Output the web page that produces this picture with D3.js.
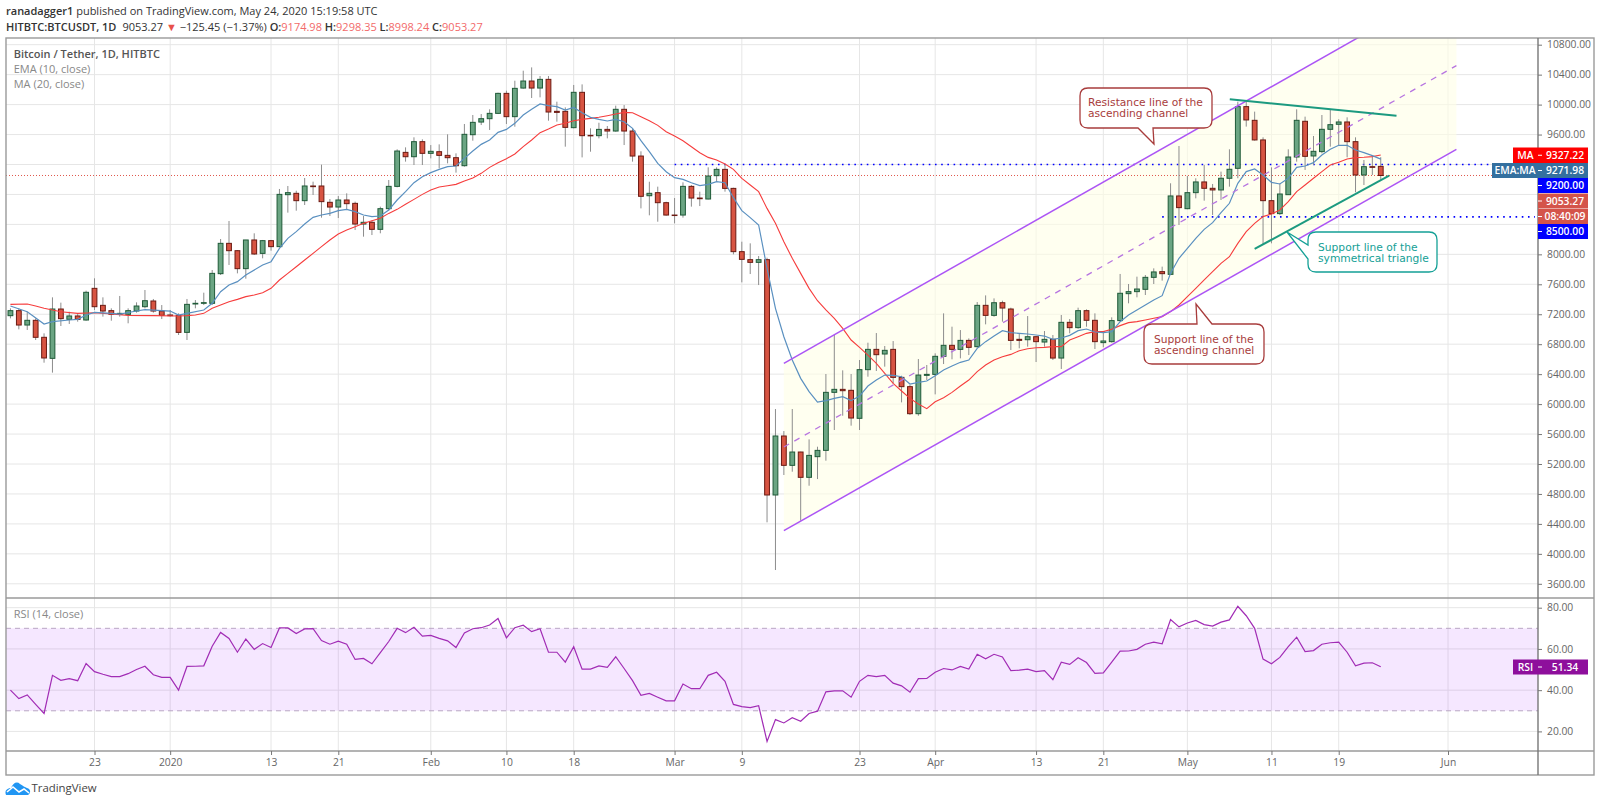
<!DOCTYPE html>
<html>
<head>
<meta charset="utf-8">
<title>BTCUSDT</title>
<script src="https://cdn.jsdelivr.net/npm/d3@7/dist/d3.min.js"></script>
<style>
  html, body { margin: 0; padding: 0; background: #fff; }
  svg { display: block; }
  text { font-family: "Open Sans", "Noto Sans", sans-serif; }
  .price-axis path, .time-axis path { display: none; }
  .price-axis line, .time-axis line { stroke: #777; }
  .price-axis text, .time-axis text { fill: #666; font-size: 10.3px; }
</style>
</head>
<body>
<svg id="chart" width="1600" height="805"></svg>
<script>
// daily candles from 13 Dec 2019
const firstDay = '2019-12-13';
const opens = [7181,7248,7056,7119,6892,6611,7270,7132,7177,7123,7546,7319,7248,7199,7199,7243,7301,7377,7243,7190,7185,6958,7337,7346,7346,7742,8147,8049,7809,8192,8013,8183,8103,8797,8815,8717,8913,8913,8695,8632,8726,8681,8405,8428,8334,8610,8908,9362,9304,9505,9349,9371,9322,9291,9184,9598,9767,9812,9883,10150,9839,10221,10315,10221,10337,9910,9910,9692,10164,9589,9585,9669,9647,9937,9647,9313,8783,8824,8690,8525,8525,8908,8752,8739,9051,9135,8881,8036,7929,7893,7929,4786,5574,5182,5360,5022,5298,5382,6157,6197,6184,5810,6460,6731,6669,6731,6357,6233,5872,6384,6397,6638,6785,6731,6851,6767,7319,7185,7354,7270,6865,6860,6900,6829,6865,6615,7092,7021,7248,7119,6821,6834,7115,7475,7502,7533,7693,7769,7733,8780,8610,8824,8967,8882,8860,9016,9149,9973,9790,9528,8717,8544,8797,9300,9777,9314,9372,9670,9737,9768,9505,9060,9171,9175];
const highs = [7279,7279,7234,7145,6945,7426,7355,7234,7212,7515,7680,7426,7279,7444,7279,7359,7524,7404,7323,7257,7212,7404,7390,7488,7791,8205,8445,8058,8192,8281,8192,8192,8873,8913,8850,9020,8971,9198,8739,8779,8815,8704,8512,8450,8637,8993,9403,9429,9563,9536,9460,9469,9603,9349,9741,9861,9874,9937,10159,10186,10319,10453,10497,10382,10382,10039,9963,10262,10270,9683,9758,9714,9986,9994,9683,9376,8970,8904,8703,8752,8962,8926,8837,9162,9162,9206,8890,8169,8147,7978,7955,5934,5640,5934,5364,5529,5431,6402,6923,6451,6402,6589,6820,6949,6776,6842,6379,6255,6602,6522,6678,7212,7034,6989,6878,7363,7452,7412,7381,7288,6945,7176,6909,6976,6923,7190,7136,7288,7265,7212,6968,7159,7738,7604,7702,7724,7813,7836,8949,9447,9047,9016,9194,8940,9105,9403,10039,10053,9906,9563,9162,8949,9403,9937,9839,9581,9861,9928,9804,9830,9563,9260,9314,9298];
const lows = [7145,6998,6990,6856,6553,6420,7043,7070,7101,7114,7257,7168,7114,7168,7079,7221,7279,7221,7136,7168,6923,6856,7279,7323,7323,7724,7858,7746,7675,7991,7947,8049,8094,8557,8583,8659,8793,8490,8512,8485,8592,8325,8236,8258,8281,8583,8895,9238,9193,9193,9282,9149,9215,9091,9171,9518,9727,9661,9874,9741,9705,10213,10088,10097,9785,9772,9438,9683,9295,9371,9549,9549,9638,9460,9238,8614,8521,8436,8516,8414,8490,8637,8645,8735,8970,8837,8000,7626,7737,7590,4421,3784,5053,5097,4443,4910,4999,5244,5654,5845,5712,5654,6366,6442,6500,6277,6023,5854,5845,6322,6130,6535,6598,6611,6655,6753,7065,7167,7101,6722,6745,6767,6562,6767,6589,6469,6945,7007,7034,6736,6758,6821,7101,7346,7426,7457,7604,7649,7724,8392,8602,8748,8717,8526,8726,8904,9016,9706,9519,8138,8147,8526,8793,9238,9127,9194,9349,9438,9461,9296,8829,8926,9060,8998];
const closes = [7248,7056,7119,6892,6616,7270,7141,7177,7132,7493,7301,7243,7199,7212,7248,7310,7381,7243,7185,7181,6958,7332,7346,7355,7746,8147,8049,7809,8192,8005,8183,8103,8801,8824,8717,8913,8904,8704,8632,8726,8677,8405,8428,8334,8610,8908,9380,9304,9505,9349,9376,9322,9291,9184,9603,9763,9812,9883,10150,9839,10217,10315,10221,10337,9901,9896,9696,10164,9585,9585,9669,9647,9937,9647,9313,8775,8815,8690,8525,8521,8908,8752,8743,9046,9135,8881,8036,7933,7893,7929,4786,5574,5182,5360,5022,5315,5382,6157,6197,6179,5814,6460,6731,6660,6718,6357,6233,5872,6388,6397,6638,6785,6731,6851,6758,7319,7185,7354,7283,6851,6851,6900,6834,6865,6615,7092,7021,7248,7119,6834,6843,7115,7480,7502,7537,7693,7765,7742,8780,8624,8824,8967,8882,8860,9016,9136,9973,9795,9528,8717,8544,8806,9300,9790,9309,9376,9670,9732,9768,9505,9060,9171,9162,9053.27];

// line vertices, position = candle number (0 = first candle)
const emaAt = [0,2,4,5,7,8,9,10,12,13,15,16,18,19,20,21,23,24,25,26,27,28,30,31,32,33,34,35,36,37,38,39,40,41,42,43,44,45,46,47,48,49,50,51,52,53,54,55,56,57,58,59,60,61,62,63,64,65,66,67,68,69,70,71,72,73,74,75,76,77,78,79,80,81,82,83,84,85,86,87,88,89,90,91,92,93,94,95,96,97,98,99,100,101,102,103,104,105,106,107,108,109,110,111,112,113,114,115,116,117,118,119,120,121,122,123,124,125,126,127,128,129,130,131,132,133,134,135,136,137,138,139,140,141,142,143,144,145,146,147,148,149,150,151,152,153,154,155,156,157,158,159,160,161,162,163];
const emaVals = [7310,7234,7070,7101,7123,7132,7190,7225,7212,7203,7243,7261,7248,7243,7190,7212,7257,7346,7501,7590,7635,7724,7858,7902,8080,8214,8303,8405,8494,8526,8548,8583,8601,8570,8526,8503,8512,8592,8726,8837,8957,9037,9091,9135,9171,9180,9282,9380,9469,9527,9629,9669,9750,9861,9937,10008,9986,9972,9928,9963,9892,9830,9803,9781,9803,9772,9683,9518,9371,9215,9104,9024,9002,8957,8917,8935,8970,8957,8757,8583,8490,8392,7813,7279,6900,6589,6344,6166,6028,6046,6077,6099,6046,6108,6241,6321,6388,6384,6366,6268,6290,6308,6379,6455,6509,6558,6589,6745,6834,6909,6981,6954,6945,6936,6923,6909,6865,6883,6918,6981,7003,6963,6954,6968,7101,7190,7257,7324,7391,7448,7747,7947,8080,8214,8334,8423,8557,8682,8949,9105,9140,9060,8962,8940,9016,9162,9180,9225,9327,9403,9456,9456,9394,9358,9318,9271.98];
const maAt = [0,2,3,4,5,6,8,10,12,14,17,20,21,22,23,24,25,26,27,28,29,30,31,32,33,34,35,36,37,38,39,40,41,42,43,44,45,46,47,48,49,50,51,52,53,54,55,56,57,58,59,60,61,62,63,64,65,66,67,68,69,70,71,72,73,74,75,76,77,78,79,80,81,82,83,84,85,86,87,88,89,90,91,92,93,94,95,96,97,98,99,100,101,102,103,104,105,106,107,108,109,110,111,112,113,114,115,116,117,118,119,120,121,122,123,124,125,126,127,128,129,130,131,132,133,134,135,136,137,138,139,140,141,142,143,144,145,146,147,148,149,150,151,152,153,154,155,156,157,158,159,160,161,162,163];
const maVals = [7332,7337,7310,7279,7257,7234,7212,7221,7203,7185,7181,7177,7181,7190,7212,7279,7323,7368,7399,7435,7457,7488,7546,7657,7746,7835,7924,8013,8103,8192,8272,8325,8370,8414,8450,8481,8547,8601,8668,8734,8801,8859,8899,8917,8935,8979,9019,9082,9162,9224,9278,9340,9438,9527,9625,9674,9727,9750,9785,9803,9816,9830,9852,9874,9896,9892,9839,9785,9723,9638,9580,9518,9438,9358,9295,9260,9206,9135,9015,8926,8837,8614,8414,8169,7947,7746,7546,7381,7257,7145,7012,6856,6758,6655,6544,6411,6277,6175,6077,6001,5939,6032,6086,6157,6241,6321,6433,6522,6589,6633,6664,6713,6740,6753,6758,6767,6767,6856,6900,6945,6968,6968,6999,7048,7088,7101,7123,7146,7168,7235,7324,7435,7546,7658,7769,7880,7969,8147,8303,8414,8504,8539,8593,8704,8837,8926,9016,9105,9194,9229,9274,9292,9296,9305,9327.22];
const rsiVals = [40,35.9,37.7,33.1,28.7,47.2,44.8,45.6,44.6,52.9,49,47.7,46.6,46.6,48,50,51.6,47.5,46.2,46.2,40,51.5,51.6,51.8,61.3,68,65.1,58.4,64.8,59.8,62.6,60.7,70.2,70.2,67.5,69.7,69.8,64.1,62.3,63.8,62.3,54.9,55.4,52.8,58.2,63.6,70,67.9,70.5,66.2,66.6,65.1,63.9,60.7,67.7,69.8,70.3,71.6,74.8,65.4,70.3,71.5,68.4,69.8,58.4,58.4,53.6,61.1,50.2,50.2,51.8,51.1,56.2,50.5,44.6,37.5,38.4,36.6,34.8,34.8,43,40.7,40.7,47.2,48.7,44.3,33.1,32,31.5,32.5,15.1,25.7,24.1,26.6,24.9,28.7,29.8,39.2,39.7,39.7,36.6,44.3,47.2,46.6,47.2,43.4,42.1,39,45.6,45.7,48.7,50.5,49.8,51.5,50.2,57.4,55.2,57.4,56.1,49.5,49.7,50.2,49,49.5,45.1,53.6,52.5,55.7,53.4,48.2,48.4,53.6,58.9,59,59.8,62.3,63.3,62.5,74.3,70.7,72.6,73.8,71.8,71.1,73,74.1,80.7,76.1,70,55.1,52.8,55.9,61.1,65.7,58.7,59.2,62.3,63,63.3,58.4,51.8,53.1,53.3,51.34];

const priceTicks = [10800,10400,10000,9600,9200,8800,8400,8000,7600,7200,6800,6400,6000,5600,5200,4800,4400,4000,3600];
const hiddenPriceLabels = [9200,8800,8400];
const rsiTicks = [80,60,40,20];
const timeTicks = ['2019-12-23','2020-01-01','2020-01-13','2020-01-21','2020-02-01','2020-02-10','2020-02-18','2020-03-01','2020-03-09','2020-03-23','2020-04-01','2020-04-13','2020-04-21','2020-05-01','2020-05-11','2020-05-19','2020-06-01'];
const timeLabels = ['23','2020','13','21','Feb','10','18','Mar','9','23','Apr','13','21','May','11','19','Jun'];

// trend line drawings [candle number, price]
const channelUpper = [[92,6545],[172,11639]];
const channelMid = [[92,5427],[172,10521]];
const channelLower = [[92,4309],[172,9403]];
const triangleTop = [[145.07,10071],[164.9,9852]];
const triangleBottom = [[148.04,8072],[164,9050]];
// horizontal levels [first candle, price]
const levels = [[79,9200],[137,8500]];

const CHART = { left: 6, right: 1538, outer: 1594, top: 38, mainBottom: 598, rsiBottom: 751, bottom: 775 };

const parseDay = d3.utcParse('%Y-%m-%d');
const dayOf = i => d3.utcHour.offset(parseDay(firstDay), i * 24);

const x = d3.scaleUtc()
  .domain([parseDay('2019-12-23'), parseDay('2020-06-01')])
  .range([94.5, 1448]);
const y = d3.scaleLinear().domain([3600, 10800]).range([583.8, 44.7]);
const yRsi = d3.scaleLinear().domain([20, 80]).range([731.4, 607.7]);
const xi = i => x(dayOf(i));

const svg = d3.select('#chart');

svg.append('defs').append('clipPath').attr('id', 'main-clip')
  .append('rect')
  .attr('x', CHART.left).attr('y', CHART.top)
  .attr('width', CHART.right - CHART.left).attr('height', CHART.mainBottom - CHART.top);

// header
const header = svg.append('g').attr('font-size', 11).attr('fill', '#333');
header.append('text').attr('x', 6).attr('y', 15)
  .html('<tspan font-weight="600">ranadagger1</tspan> published on TradingView.com, May 24, 2020 15:19:58 UTC');
const head2 = header.append('text').attr('x', 6).attr('y', 30.5);
head2.append('tspan').attr('font-weight', 600).text('HITBTC:BTCUSDT, 1D');
head2.append('tspan').attr('dx', 6).text('9053.27 ');
head2.append('tspan').attr('fill', '#e8504a').text('▼');
head2.append('tspan').text(' −125.45 (−1.37%) ');
[['O:', '9174.98'], ['H:', '9298.35'], ['L:', '8998.24'], ['C:', '9053.27']].forEach(([k, v]) => {
  head2.append('tspan').attr('font-weight', 600).text(k);
  head2.append('tspan').attr('fill', '#f26a6a').text(v + ' ');
});

// grids
const grid = svg.append('g').attr('stroke', '#e6e6e6').attr('stroke-width', 1);
grid.selectAll('.gx').data(timeTicks).enter().append('line')
  .attr('x1', d => x(parseDay(d))).attr('x2', d => x(parseDay(d)))
  .attr('y1', CHART.top).attr('y2', CHART.rsiBottom);
grid.selectAll('.gy').data(priceTicks).enter().append('line')
  .attr('x1', CHART.left).attr('x2', CHART.right)
  .attr('y1', d => y(d)).attr('y2', d => y(d));

// rsi band
svg.append('rect')
  .attr('x', CHART.left).attr('width', CHART.right - CHART.left)
  .attr('y', yRsi(70)).attr('height', yRsi(30) - yRsi(70))
  .attr('fill', '#9915ff').attr('fill-opacity', 0.1);
grid.selectAll('.gr').data(rsiTicks).enter().append('line')
  .attr('x1', CHART.left).attr('x2', CHART.right)
  .attr('y1', d => yRsi(d)).attr('y2', d => yRsi(d));
[70, 30].forEach(v => {
  svg.append('line')
    .attr('x1', CHART.left).attr('x2', CHART.right)
    .attr('y1', yRsi(v)).attr('y2', yRsi(v))
    .attr('stroke', '#b9a6c4').attr('stroke-dasharray', '5 4');
});

const plot = svg.append('g').attr('clip-path', 'url(#main-clip)');
const toPt = ([i, p]) => [xi(i), y(p)];

// channel fill
const channelShape = [channelUpper[0], channelUpper[1], channelLower[1], channelLower[0]].map(toPt);
plot.append('path')
  .attr('d', d3.line()(channelShape) + 'Z')
  .attr('fill', '#ffffe6').attr('fill-opacity', 0.6);

// price line + levels
plot.append('line')
  .attr('x1', CHART.left).attr('x2', CHART.right)
  .attr('y1', y(9053.27)).attr('y2', y(9053.27))
  .attr('stroke', '#e0584c').attr('stroke-dasharray', '1 2');
levels.forEach(([i, p]) => {
  plot.append('line')
    .attr('x1', xi(i)).attr('x2', 1535)
    .attr('y1', y(p)).attr('y2', y(p))
    .attr('stroke', '#0000ff').attr('stroke-width', 1.6)
    .attr('stroke-dasharray', '1.6 4.6');
});

// candles
const candles = plot.append('g').selectAll('g')
  .data(opens.map((o, i) => ({ i, o, h: highs[i], l: lows[i], c: closes[i] })))
  .enter().append('g');
candles.append('line')
  .attr('x1', d => xi(d.i)).attr('x2', d => xi(d.i))
  .attr('y1', d => y(d.h)).attr('y2', d => y(d.l))
  .attr('stroke', '#8d8d8d');
candles.append('rect')
  .attr('x', d => xi(d.i) - 2.4).attr('width', 4.8)
  .attr('y', d => y(Math.max(d.o, d.c)))
  .attr('height', d => Math.max(0.5, Math.abs(y(d.o) - y(d.c))))
  .attr('fill', d => d.c >= d.o ? '#6ba583' : '#d75442')
  .attr('stroke', d => d.c >= d.o ? '#1f5a38' : '#6b1a12');

// ema / ma
const lineGen = d3.line().x(d => xi(d[0])).y(d => y(d[1]));
plot.append('path')
  .attr('d', lineGen(maAt.map((a, k) => [a, maVals[k]])))
  .attr('fill', 'none').attr('stroke', '#f63d3d').attr('stroke-width', 1.1);
plot.append('path')
  .attr('d', lineGen(emaAt.map((a, k) => [a, emaVals[k]])))
  .attr('fill', 'none').attr('stroke', '#5a90c0').attr('stroke-width', 1.2);

// channel lines
[channelUpper, channelLower].forEach(seg => {
  plot.append('path').attr('d', d3.line()(seg.map(toPt)))
    .attr('stroke', '#ac55f5').attr('stroke-width', 1.5).attr('fill', 'none');
});
plot.append('path').attr('d', d3.line()(channelMid.map(toPt)))
  .attr('stroke', '#b775e0').attr('stroke-width', 1.3).attr('stroke-dasharray', '6 6').attr('fill', 'none');

// symmetrical triangle
[triangleTop, triangleBottom].forEach(seg => {
  plot.append('path').attr('d', d3.line()(seg.map(toPt)))
    .attr('stroke', '#1c9a80').attr('stroke-width', 2).attr('fill', 'none');
});

// callouts (page coordinates, they are notes on top of the chart)
function callout(box, tail, lines, color) {
  const { x0, y0, x1, y1 } = box;
  const r = 8;
  const side = tail.side;
  let d = `M${x0 + r},${y0}`;
  if (side === 'top') d += `L${tail.a},${y0}L${tail.tx},${tail.ty}L${tail.b},${y0}`;
  d += `L${x1 - r},${y0}Q${x1},${y0} ${x1},${y0 + r}L${x1},${y1 - r}Q${x1},${y1} ${x1 - r},${y1}`;
  if (side === 'bottom') d += `L${tail.b},${y1}L${tail.tx},${tail.ty}L${tail.a},${y1}`;
  d += `L${x0 + r},${y1}Q${x0},${y1} ${x0},${y1 - r}`;
  if (side === 'left') d += `L${x0},${tail.b}L${tail.tx},${tail.ty}L${x0},${tail.a}`;
  d += `L${x0},${y0 + r}Q${x0},${y0} ${x0 + r},${y0}Z`;
  svg.append('path').attr('d', d).attr('fill', '#fff').attr('stroke', color).attr('stroke-width', 1.3);
  lines.forEach(l => {
    svg.append('text').attr('x', l.x).attr('y', l.y).attr('fill', color)
      .attr('font-size', 10.7).attr('style', 'font-family:"DejaVu Sans"').text(l.t);
  });
}
callout({ x0: 1080, y0: 88, x1: 1212, y1: 128 },
  { side: 'bottom', a: 1138, b: 1153, tx: 1154, ty: 144 },
  [{ x: 1088, y: 105.5, t: 'Resistance line of the' }, { x: 1088, y: 116.5, t: 'ascending channel' }], '#a83c3c');
callout({ x0: 1144, y0: 324, x1: 1264, y1: 364 },
  { side: 'top', a: 1197, b: 1212, tx: 1196, ty: 304 },
  [{ x: 1154, y: 342.5, t: 'Support line of the' }, { x: 1154, y: 353.5, t: 'ascending channel' }], '#a83c3c');
callout({ x0: 1308, y0: 232, x1: 1437, y1: 272 },
  { side: 'left', a: 245, b: 259, tx: 1287, ty: 232 },
  [{ x: 1318, y: 250.5, t: 'Support line of the' }, { x: 1318, y: 261.5, t: 'symmetrical triangle' }], '#14a096');

// rsi line
svg.append('path')
  .attr('d', d3.line().x((d, i) => xi(i)).y(d => yRsi(d))(rsiVals))
  .attr('fill', 'none').attr('stroke', '#a12cb5').attr('stroke-width', 1.2);

// frame
const frame = svg.append('g').attr('stroke', '#9a9a9a').attr('fill', 'none').attr('stroke-width', 1.4);
frame.append('rect').attr('x', CHART.left).attr('y', CHART.top)
  .attr('width', CHART.outer - CHART.left).attr('height', CHART.bottom - CHART.top);
frame.append('line').attr('x1', CHART.left).attr('x2', CHART.outer).attr('y1', CHART.mainBottom).attr('y2', CHART.mainBottom);
frame.append('line').attr('x1', CHART.left).attr('x2', CHART.outer).attr('y1', CHART.rsiBottom).attr('y2', CHART.rsiBottom);
frame.append('line').attr('x1', CHART.right).attr('x2', CHART.right).attr('y1', CHART.top).attr('y2', CHART.bottom).attr('stroke', '#777');

// axes
svg.append('g').attr('class', 'price-axis').attr('transform', `translate(${CHART.right},0)`)
  .call(d3.axisRight(y).tickValues(priceTicks).tickSize(4).tickPadding(5)
    .tickFormat(d => hiddenPriceLabels.includes(d) ? '' : d3.format('.2f')(d)));
svg.append('g').attr('class', 'price-axis').attr('transform', `translate(${CHART.right},0)`)
  .call(d3.axisRight(yRsi).tickValues(rsiTicks).tickSize(4).tickPadding(5)
    .tickFormat(d3.format('.2f')));
svg.append('g').attr('class', 'time-axis').attr('transform', `translate(0,${CHART.rsiBottom})`)
  .call(d3.axisBottom(x).tickValues(timeTicks.map(parseDay)).tickSize(4).tickPadding(4)
    .tickFormat((d, i) => timeLabels[i]));

// last value tags on the price axis
function valueTag(top, h, text, bg, name) {
  svg.append('rect').attr('x', CHART.right).attr('y', top).attr('width', 50).attr('height', h).attr('fill', bg);
  svg.append('line').attr('x1', CHART.right).attr('x2', CHART.right + 4)
    .attr('y1', top + h / 2).attr('y2', top + h / 2).attr('stroke', '#fff');
  svg.append('text').attr('x', CHART.right + 27).attr('y', top + h / 2 + 3.6).attr('text-anchor', 'middle')
    .attr('fill', '#fff').attr('font-size', 10.3).attr('font-weight', 600).text(text);
  if (name) {
    const w = name.length > 3 ? 46 : 25;
    svg.append('rect').attr('x', CHART.right - w).attr('y', top).attr('width', w).attr('height', h).attr('fill', bg);
    svg.append('text').attr('x', CHART.right - w / 2).attr('y', top + h / 2 + 3.6).attr('text-anchor', 'middle')
      .attr('fill', '#fff').attr('font-size', 10.3).attr('font-weight', 600).text(name);
  }
}
valueTag(147.5, 15.5, '9327.22', '#ff0000', 'MA');
valueTag(163, 15, '9271.98', '#34709f', 'EMA:MA');
valueTag(178, 15, '9200.00', '#0000ff');
valueTag(193.5, 15, '9053.27', '#d4544a');
valueTag(209, 15, '08:40:09', '#d4544a');
valueTag(224, 15, '8500.00', '#0000ff');
valueTag(659.5, 15, '51.34', '#8e0f9c', 'RSI');

// legends
const legend = svg.append('g').attr('font-size', 11);
legend.append('text').attr('x', 13.7).attr('y', 58).attr('fill', '#555').attr('font-weight', 600).text('Bitcoin / Tether, 1D, HITBTC');
legend.append('text').attr('x', 13.7).attr('y', 73).attr('fill', '#888').text('EMA (10, close)');
legend.append('text').attr('x', 13.7).attr('y', 88).attr('fill', '#888').text('MA (20, close)');
legend.append('text').attr('x', 13.7).attr('y', 618).attr('fill', '#888').text('RSI (14, close)');

// tradingview mark
const logo = svg.append('g').attr('transform', 'translate(5,781)');
logo.append('path').attr('d', 'M1,14C-1,9 3,7 6,7C8,2 12,0 15,3C18,5 20,6 22,7C26,8 26,12 23,14Z').attr('fill', '#2196f3');
logo.append('path').attr('d', 'M2,11L8,6L14,11L19,8L24,12').attr('fill', 'none').attr('stroke', '#fff').attr('stroke-width', 1.6);
svg.append('text').attr('x', 31.5).attr('y', 792).attr('font-size', 11.4).attr('fill', '#444').text('TradingView');
</script>
</body>
</html>
